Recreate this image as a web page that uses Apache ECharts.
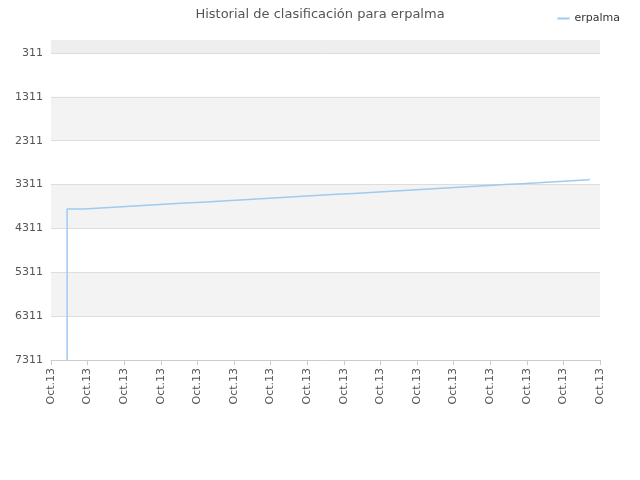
<!DOCTYPE html><html><head><meta charset="utf-8"><script src="https://cdn.jsdelivr.net/npm/echarts@6/dist/echarts.min.js"></script></head><body style="margin:0"><div id="c" style="width:640px;height:480px"></div><script>
const xLabels=["Oct.13","Oct.13","Oct.13","Oct.13","Oct.13","Oct.13","Oct.13","Oct.13","Oct.13","Oct.13","Oct.13","Oct.13","Oct.13","Oct.13","Oct.13","Oct.13"];
const xPos=[0.44,0.44,0.9,1.36,1.82,2.28,2.74,3.2,3.66,4.12,4.58,5.04,5.5,5.96,6.42,6.88,7.34,7.8,8.26,8.72,9.18,9.64,10.1,10.56,11.02,11.48,11.94,12.4,12.86,13.32,13.78,14.24,14.7];
const ranks=[7311,3868,3845,3822,3800,3778,3756,3734,3712,3690,3668,3645,3622,3600,3578,3556,3534,3512,3490,3468,3445,3422,3400,3378,3356,3334,3312,3290,3268,3245,3222,3200,3180];
const yTicks=[311,1311,2311,3311,4311,5311,6311,7311];
const chart=echarts.init(document.getElementById('c'));
chart.setOption({
 animation:false,
 title:{text:'Historial de clasificación para erpalma',left:'center',top:3,textStyle:{fontSize:13,fontWeight:'normal',color:'#555',fontFamily:'DejaVu Sans'}},
 legend:{right:15,top:8,itemWidth:12,itemHeight:2,icon:'rect',textStyle:{fontSize:11,color:'#333',fontFamily:'DejaVu Sans'},data:['erpalma']},
 graphic:[{type:'rect',shape:{x:51,y:40,width:549,height:13},style:{fill:'#eeeeee'},z:-1}],
 grid:{left:51,right:40,top:53,bottom:120},
 xAxis:{type:'value',min:0,max:15,interval:1,axisLine:{lineStyle:{color:'#ccc'}},axisTick:{show:true,lineStyle:{color:'#ccc'}},splitLine:{show:false},
  axisLabel:{rotate:90,fontSize:11,color:'#555',fontFamily:'DejaVu Sans',formatter:(v)=>xLabels[v]||''}},
 yAxis:{type:'value',inverse:true,min:yTicks[0],max:yTicks[yTicks.length-1],interval:1000,axisLine:{show:false},axisTick:{show:false},
  splitLine:{lineStyle:{color:'#ddd'}},splitArea:{show:true,areaStyle:{color:['#ffffff','#f3f3f3']}},
  axisLabel:{fontSize:11,color:'#555',fontFamily:'DejaVu Sans',formatter:(v)=>String(v)}},
 series:[{name:'erpalma',type:'line',step:'end',symbol:'none',lineStyle:{color:'#9ecbf0',width:1.5},itemStyle:{color:'#9ecbf0'},
  data:xPos.map((x,i)=>[x,ranks[i]])}]
});
</script></body></html>
